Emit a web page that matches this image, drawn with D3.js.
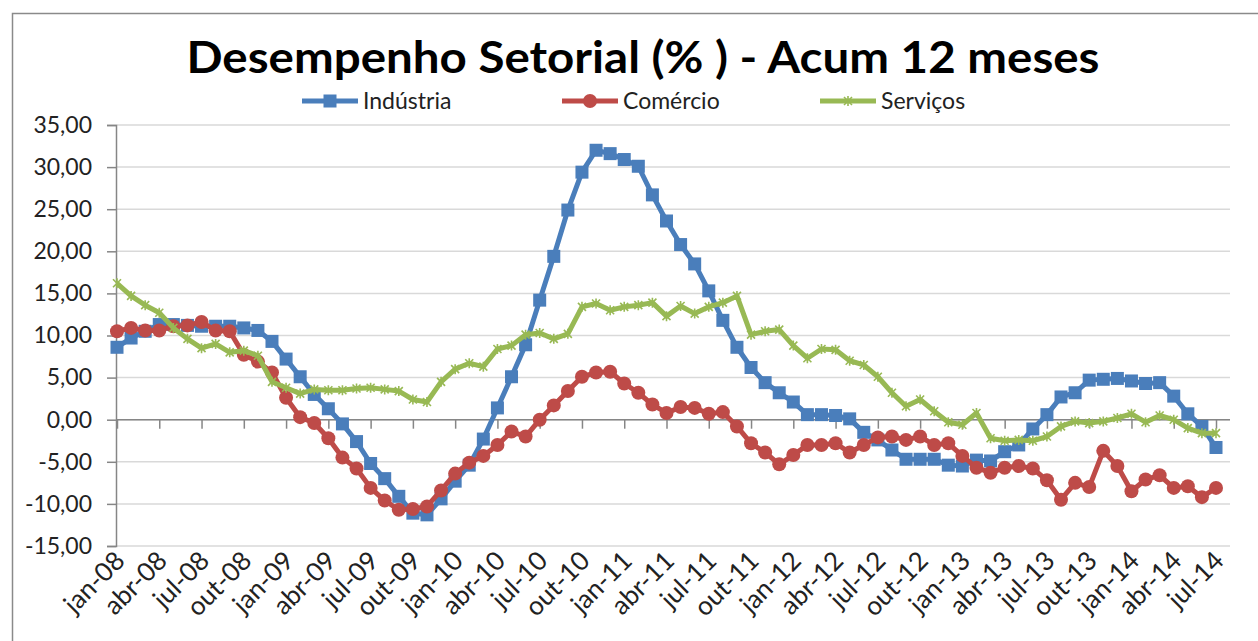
<!DOCTYPE html>
<html>
<head>
<meta charset="utf-8">
<script src="https://cdn.jsdelivr.net/npm/d3@7"></script>
<style>
  body { margin: 0; background: #fff; }
  svg { display: block; font-family: Lato, "Open Sans", sans-serif; }
</style>
</head>
<body>
<div id="chart"></div>
<script>
// months jan-08 .. jul-14
var monthNames = ["jan","fev","mar","abr","mai","jun","jul","ago","set","out","nov","dez"];
var years = ["08","09","10","11","12","13","14"];
var categories = [];
years.forEach(function(yy) {
  monthNames.forEach(function(m) { categories.push(m + "-" + yy); });
});
categories = categories.slice(0, categories.indexOf("jul-14") + 1);

var tickLabels = ["jan-08","abr-08","jul-08","out-08","jan-09","abr-09","jul-09","out-09",
  "jan-10","abr-10","jul-10","out-10","jan-11","abr-11","jul-11","out-11","jan-12","abr-12",
  "jul-12","out-12","jan-13","abr-13","jul-13","out-13","jan-14","abr-14","jul-14"];

var industria = [8.6,9.7,10.5,11.3,11.3,11.2,11.1,11.1,11.1,10.9,10.6,9.3,7.2,5.1,3.0,1.3,
  -0.5,-2.6,-5.2,-7.0,-9.1,-11.1,-11.3,-9.4,-7.3,-5.4,-2.3,1.4,5.1,8.9,14.2,19.4,24.9,29.4,
  32.0,31.6,30.9,30.1,26.7,23.6,20.8,18.5,15.3,11.8,8.6,6.2,4.4,3.2,2.1,0.6,0.6,0.5,0.1,
  -1.5,-2.4,-3.6,-4.7,-4.7,-4.7,-5.4,-5.5,-4.8,-4.9,-3.8,-3.0,-1.1,0.6,2.7,3.2,4.7,4.8,
  4.9,4.6,4.3,4.4,2.8,0.7,-0.8,-3.3];

var comercio = [10.5,10.9,10.6,10.6,11.1,11.2,11.6,10.6,10.5,7.7,6.9,5.6,2.6,0.3,-0.4,-2.2,
  -4.5,-5.8,-8.1,-9.6,-10.7,-10.6,-10.3,-8.4,-6.4,-5.1,-4.3,-3.0,-1.4,-2.0,0.0,1.7,3.4,5.1,
  5.6,5.7,4.3,3.2,1.8,0.8,1.5,1.4,0.7,0.9,-0.8,-2.8,-3.9,-5.3,-4.2,-3.0,-3.0,-2.8,-3.9,
  -3.0,-2.1,-2.0,-2.4,-2.0,-3.0,-2.8,-4.3,-5.7,-6.3,-5.7,-5.5,-5.8,-7.2,-9.5,-7.5,-8.0,
  -3.7,-5.5,-8.5,-7.1,-6.6,-8.1,-7.9,-9.2,-8.1];

var servicos = [16.2,14.7,13.6,12.7,10.9,9.6,8.5,9.0,8.0,8.2,7.6,4.5,3.8,3.1,3.6,3.5,3.5,
  3.7,3.8,3.6,3.4,2.4,2.1,4.5,6.0,6.7,6.3,8.4,8.8,10.1,10.3,9.6,10.2,13.4,13.8,13.0,13.4,
  13.6,13.9,12.3,13.5,12.6,13.4,13.9,14.7,10.1,10.5,10.7,8.8,7.3,8.4,8.3,7.0,6.5,5.1,3.2,
  1.6,2.4,1.0,-0.3,-0.6,0.8,-2.2,-2.5,-2.4,-2.5,-2.0,-0.8,-0.2,-0.4,-0.2,0.2,0.7,-0.3,0.5,
  0.0,-1.0,-1.6,-1.6];

var yTicks = [-15,-10,-5,0,5,10,15,20,25,30,35];

var series = [
  {name: "Indústria", values: industria, color: "#4A7EBB", marker: "square"},
  {name: "Comércio", values: comercio, color: "#BE4B48", marker: "circle"},
  {name: "Serviços", values: servicos, color: "#98B954", marker: "star"}
];

var width = 1258, height = 641;
var plot = {left: 116, right: 1230, top: 125, bottom: 546};

var svg = d3.select("#chart").append("svg")
  .attr("width", width)
  .attr("height", height);

// outer chart border
svg.append("rect")
  .attr("x", 12.5).attr("y", 13.5)
  .attr("width", 1300).attr("height", 700)
  .attr("fill", "#fff")
  .attr("stroke", "#8a8a8a")
  .attr("stroke-width", 1.5);

var x = d3.scalePoint()
  .domain(categories)
  .range([117, 1216]);

var y = d3.scaleLinear()
  .domain([-15, 35])
  .range([plot.bottom, plot.top]);

var ptBR = d3.formatLocale({decimal: ",", thousands: ".", grouping: [3], currency: ["R$", ""], minus: "-"});
var fmt = ptBR.format(".2f");

// gridlines
svg.append("g")
  .selectAll("line")
  .data(yTicks)
  .enter().append("line")
    .attr("x1", plot.left).attr("x2", plot.right)
    .attr("y1", function(d) { return y(d); })
    .attr("y2", function(d) { return y(d); })
    .attr("stroke", "#d9d9d9")
    .attr("stroke-width", 1.5);

// y axis
var yAxis = svg.append("g")
  .attr("transform", "translate(" + plot.left + ",0)")
  .call(d3.axisLeft(y).tickValues(yTicks).tickSize(9).tickPadding(15).tickFormat(fmt));
yAxis.select(".domain").attr("stroke", "#868686").attr("stroke-width", 1.5);
yAxis.selectAll(".tick line").attr("stroke", "#868686").attr("stroke-width", 1.5);
yAxis.selectAll("text")
  .attr("font-size", 23)
  .attr("fill", "#222")
  .style("font-family", "Lato, sans-serif");

// x axis on the zero line
var xAxis = svg.append("g")
  .attr("transform", "translate(0," + y(0) + ")")
  .call(d3.axisBottom(x).tickValues(tickLabels).tickSize(9).tickFormat(""));
xAxis.select(".domain").remove();
xAxis.selectAll(".tick line").attr("stroke", "#868686").attr("stroke-width", 1.5);
xAxis.append("line")
  .attr("x1", plot.left).attr("x2", plot.right)
  .attr("stroke", "#868686").attr("stroke-width", 1.5);

// rotated month labels at the bottom
svg.append("g")
  .selectAll("text")
  .data(tickLabels)
  .enter().append("text")
    .attr("transform", function(d) { return "translate(" + (x(d) + 3) + "," + (plot.bottom + 10) + ") rotate(-45)"; })
    .attr("text-anchor", "end")
    .attr("dy", "0.35em")
    .attr("font-size", 26)
    .attr("fill", "#222")
    .text(function(d) { return d; });

var line = d3.line()
  .x(function(d, i) { return x(categories[i]); })
  .y(function(d) { return y(d); });

function drawMarker(g, type, color) {
  if (type === "square") {
    g.append("rect").attr("x", -6.5).attr("y", -6.5).attr("width", 13).attr("height", 13).attr("fill", color);
  } else if (type === "circle") {
    g.append("circle").attr("r", 7).attr("fill", color);
  } else {
    g.append("path").attr("d", "M-4,-4L4,4M-4,4L4,-4M0,-5V5")
      .attr("stroke", color).attr("stroke-width", 1.6).attr("fill", "none");
  }
}

series.forEach(function(s) {
  var g = svg.append("g");
  g.append("path")
    .datum(s.values)
    .attr("d", line)
    .attr("fill", "none")
    .attr("stroke", s.color)
    .attr("stroke-width", 5)
    .attr("stroke-linejoin", "round");
  g.selectAll(".mk")
    .data(s.values)
    .enter().append("g")
      .attr("class", "mk")
      .attr("transform", function(d, i) { return "translate(" + x(categories[i]) + "," + y(d) + ")"; })
      .each(function() { drawMarker(d3.select(this), s.marker, s.color); });
});

// legend
var legendX = [302, 562, 820];
series.forEach(function(s, i) {
  var lg = svg.append("g").attr("transform", "translate(" + legendX[i] + ",101)");
  lg.append("line").attr("x1", 0).attr("x2", 56)
    .attr("stroke", s.color).attr("stroke-width", 5);
  drawMarker(lg.append("g").attr("transform", "translate(28,0)"), s.marker, s.color);
  lg.append("text")
    .attr("x", 61)
    .attr("dy", "0.35em")
    .attr("font-size", 23)
    .attr("fill", "#222")
    .text(s.name);
});

// title
svg.append("text")
  .attr("x", 643)
  .attr("y", 73)
  .attr("text-anchor", "middle")
  .attr("font-size", 44)
  .attr("font-weight", "bold")
  .attr("fill", "#000")
  .attr("textLength", 913)
  .attr("lengthAdjust", "spacingAndGlyphs")
  .text("Desempenho Setorial (% ) - Acum 12 meses");
</script>
</body>
</html>
